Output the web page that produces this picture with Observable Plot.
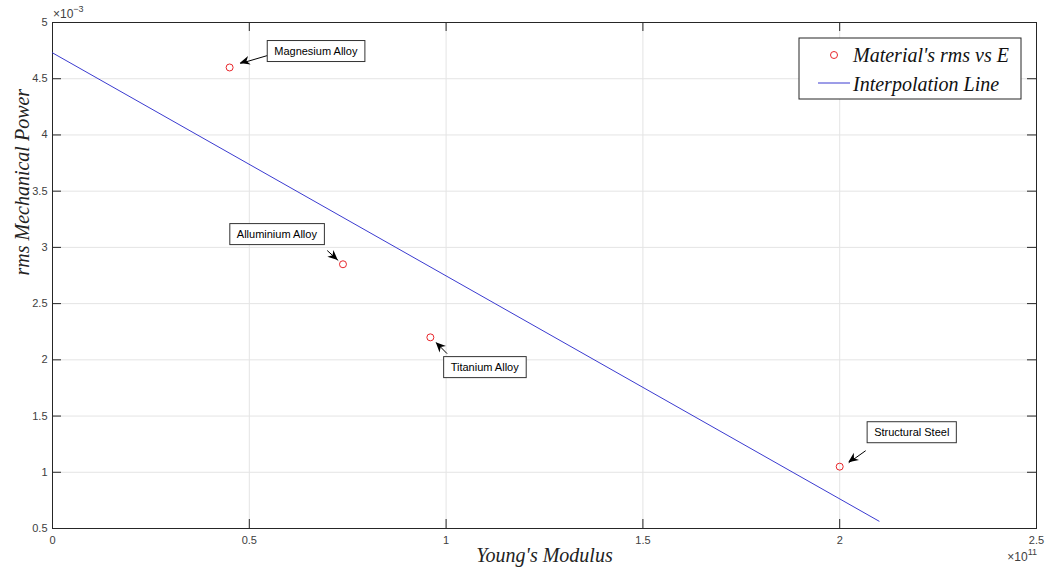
<!DOCTYPE html>
<html><head><meta charset="utf-8">
<script src="https://cdn.jsdelivr.net/npm/d3@7"></script>
<script src="https://cdn.jsdelivr.net/npm/@observablehq/plot@0.6"></script>
<style>body{margin:0;background:#fff;} #chart{position:relative;width:1058px;height:574px;}</style>
</head><body><div id="chart"></div>
<script>
// Values in displayed units: Young's modulus ×10^11, rms power ×10^-3
const materials = ["Magnesium Alloy", "Alluminium Alloy", "Titanium Alloy", "Structural Steel"];
const youngsModulus = [0.45, 0.738, 0.96, 2.0];
const rmsPower = [4.60, 2.85, 2.20, 1.05];
const fitE = [0, 2.1];
const fitPower = [4.73, 0.565];
const xTicks = [0, 0.5, 1, 1.5, 2, 2.5];
const yTicks = [0.5, 1, 1.5, 2, 2.5, 3, 3.5, 4, 4.5, 5];
// annotation anchors (data units)
const labelE = [0.669, 0.570, 1.098, 2.183];
const labelP = [4.742, 3.114, 1.931, 1.352];
const arrowFromE = [0.546, 0.698, 1.0025, 2.066];
const arrowFromP = [4.706, 2.972, 2.055, 1.192];
const arrowToE = [0.477, 0.726, 0.975, 2.023];
const arrowToP = [4.635, 2.883, 2.153, 1.085];
const legendLabels = ["Material's rms vs E", "Interpolation Line"];

const points = materials.map((m, i) => ({m, E: youngsModulus[i], P: rmsPower[i]}));
const fit = fitE.map((e, i) => ({E: e, P: fitPower[i]}));
const ann = materials.map((m, i) => ({m, lx: labelE[i], ly: labelP[i], x1: arrowFromE[i], y1: arrowFromP[i], x2: arrowToE[i], y2: arrowToP[i]}));

const W = 1058, H = 574, mL = 52, mR = 22, mT = 22, mB = 46;
const innerW = W - mL - mR, innerH = H - mT - mB;
const axisColor = "#262626", gridColor = "#e4e4e4", tickColor = "#404040";
const serif = "'Liberation Serif', 'Times New Roman', serif";
const sans = "'Liberation Sans', Arial, sans-serif";
const fmt = d => String(d);

const chart = Plot.plot({
  width: W, height: H,
  marginLeft: mL, marginRight: mR, marginTop: mT, marginBottom: mB,
  style: {fontFamily: sans, fontSize: "11px", color: tickColor, background: "#fff", overflow: "visible"},
  x: {domain: [0, 2.5], label: null},
  y: {domain: [0.5, 5], label: null},
  marks: [
    Plot.ruleX(xTicks.slice(1, -1), {stroke: gridColor, strokeWidth: 1}),
    Plot.ruleY(yTicks.slice(1, -1), {stroke: gridColor, strokeWidth: 1}),
    Plot.ruleX(xTicks, {stroke: axisColor, insetTop: innerH - 9}),
    Plot.ruleX(xTicks, {stroke: axisColor, insetBottom: innerH - 9}),
    Plot.ruleY(yTicks, {stroke: axisColor, insetRight: innerW - 9}),
    Plot.ruleY(yTicks, {stroke: axisColor, insetLeft: innerW - 9}),
    Plot.frame({stroke: axisColor}),
    Plot.axisX(xTicks, {tickSize: 0, tickPadding: 8, fill: tickColor, label: null, tickFormat: fmt}),
    Plot.axisY(yTicks, {tickSize: 0, tickPadding: 5, fill: tickColor, label: null, tickFormat: fmt}),
    Plot.line(fit, {x: "E", y: "P", stroke: "#3b3bd0", strokeWidth: 1}),
    Plot.dot(points, {x: "E", y: "P", r: 3.5, stroke: "#e8262b", strokeWidth: 1}),
    Plot.link(ann, {x1: "x1", y1: "y1", x2: "x2", y2: "y2", stroke: "#000", strokeWidth: 1}),
    Plot.text(ann, {x: "lx", y: "ly", text: "m", fill: "#000", fontSize: 11, fontFamily: sans, ariaDescription: "annot-labels"}),
    Plot.text(["Young's Modulus"], {frameAnchor: "bottom", dy: 33, text: d => d, fontFamily: serif, fontStyle: "italic", fontSize: 20, fill: "#222"}),
    Plot.text(["rms Mechanical Power"], {frameAnchor: "left", dx: -30, rotate: -90, text: d => d, fontFamily: serif, fontStyle: "italic", fontSize: 20, fill: "#222"})
  ]
});
document.getElementById("chart").append(chart);

const svg = d3.select(chart);
// label boxes
svg.selectAll('g[aria-description="annot-labels"] text').each(function () {
  const b = this.getBBox();
  const padX = 7, padY = 4.5;
  const r = d3.select(this.parentNode).insert("rect", () => this)
    .attr("x", b.x - padX).attr("y", b.y - padY)
    .attr("width", b.width + 2 * padX).attr("height", b.height + 2 * padY)
    .attr("fill", "#fff").attr("stroke", "#333").attr("stroke-width", 1);
  const t = this.getAttribute("transform");
  if (t) r.attr("transform", t);
});
// filled arrowheads
const sx = chart.scale("x"), sy = chart.scale("y");
const heads = svg.append("g");
ann.forEach(a => {
  const X1 = sx.apply(a.x1), Y1 = sy.apply(a.y1), X2 = sx.apply(a.x2), Y2 = sy.apply(a.y2);
  const ang = Math.atan2(Y2 - Y1, X2 - X1) * 180 / Math.PI;
  heads.append("path").attr("d", "M0,0L-10,-4.5L-7,0L-10,4.5Z")
    .attr("transform", `translate(${X2},${Y2}) rotate(${ang})`).attr("fill", "#000");
});
// exponent labels
function expLabel(x, y, exp, anchor) {
  const t = svg.append("text").attr("x", x).attr("y", y).attr("text-anchor", anchor)
    .attr("font-family", sans).attr("font-size", 12).attr("fill", tickColor);
  t.append("tspan").text("\u00d710");
  t.append("tspan").attr("dy", -6).attr("font-size", 9).text(exp);
}
expLabel(mL + 1, mT - 4, "\u22123", "start");
expLabel(W - mR + 1, H - 13, "11", "end");
// legend
const lg = svg.append("g").attr("transform", `translate(${W - mR - 237},${mT + 16})`);
lg.append("rect").attr("width", 222).attr("height", 61).attr("fill", "#fff").attr("stroke", "#262626").attr("stroke-width", 1);
lg.append("circle").attr("cx", 35).attr("cy", 17).attr("r", 3.5).attr("fill", "none").attr("stroke", "#e8262b");
lg.append("line").attr("x1", 19).attr("x2", 51).attr("y1", 45).attr("y2", 45).attr("stroke", "#3b3bd0");
legendLabels.forEach((s, i) => {
  lg.append("text").attr("x", 54).attr("y", 17 + i * 29).attr("dy", "0.35em").attr("text-anchor", "start")
    .attr("font-family", serif).attr("font-style", "italic").attr("font-size", 20).attr("fill", "#111").text(s);
});
</script>
</body></html>
